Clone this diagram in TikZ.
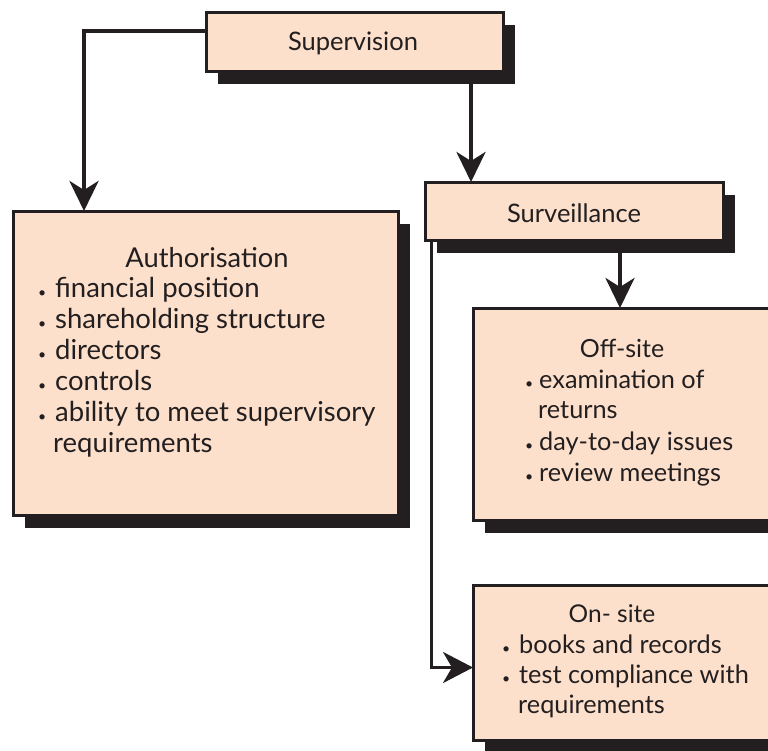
\documentclass[tikz,border=0pt]{standalone}
\usepackage{fontspec}
\setmainfont{Lato}
\usetikzlibrary{arrows.meta,shadows}
\definecolor{peach}{HTML}{FDE0CB}
\definecolor{ink}{HTML}{231F20}
\newcommand\bl[1][17pt]{\makebox[#1][l]{\fontsize{14}{14}\selectfont •}}
\begin{document}
\begin{tikzpicture}[x=1pt,y=-1pt,
  box/.style={draw=ink, line width=3pt, fill=peach, rectangle, inner sep=0pt, outer sep=0pt, anchor=north west,
    general shadow={fill=ink, shadow xshift=12pt, shadow yshift=-13pt}},
  ttl/.style={font=\fontsize{25.5}{30}\selectfont, text=ink, inner sep=0pt, anchor=base},
  ln/.style={font=\fontsize{27.5}{31}\selectfont, text=ink, inner sep=0pt, anchor=base west},
  lns/.style={ln, font=\fontsize{25.3}{31}\selectfont},
  conn/.style={draw=ink, line width=4pt, -{Stealth[length=30pt,width=29pt,inset=9pt]}},
  thin/.style={draw=ink, line width=3pt, -{Stealth[length=30pt,width=31pt,inset=9pt]}}]
\clip (0,0) rectangle (768,750);
\fill[white] (0,0) rectangle (768,750);
% boxes
\node[box, minimum width=297pt, minimum height=59pt] (sup) at (206,12) {};
\node[box, minimum width=385pt, minimum height=304pt] (auth) at (13,211) {};
\node[box, minimum width=298pt, minimum height=58pt] (surv) at (425,182) {};
\node[box, minimum width=320pt, minimum height=212pt] (offs) at (473,308) {};
\node[box, minimum width=320pt, minimum height=155pt] (ons) at (473,585) {};
% texts
\node[ttl] (supT) at (353,50) {Supervision};
\node[ttl] (survT) at (574,222) {Surveillance};
\node[ttl, font=\fontsize{27.3}{30}\selectfont] (authT) at (207,267) {Authorisation};
\node[ln] (a1) at (38,297) {\bl financial position};
\node[ln] (a2) at (38,328) {\bl shareholding structure};
\node[ln] (a3) at (38,359) {\bl directors};
\node[ln] (a4) at (38,390) {\bl controls};
\node[ln] (a5) at (38,421) {\bl ability to meet supervisory};
\node[ln] (a6) at (53,452) {requirements};
\node[ttl, font=\fontsize{25}{30}\selectfont] (offsT) at (622,357) {Off-site};
\node[lns] (o1) at (525,388) {\bl[14pt]examination of};
\node[lns] (o2) at (538,418) {returns};
\node[lns] (o3) at (525,450) {\bl[14pt]day-to-day issues};
\node[lns] (o4) at (525,481) {\bl[14pt]review meetings};
\node[ttl, font=\fontsize{24.5}{30}\selectfont] (onsT) at (612,622) {On- site};
\node[lns] (n1) at (502,653) {\bl books and records};
\node[lns] (n2) at (502,683) {\bl test compliance with};
\node[lns] (n3) at (518,713) {requirements};
% connectors
\draw[conn] ([yshift=10.5pt]sup.west) -| ([xshift=71pt]auth.north west);
\draw[conn] ([xshift=-32pt]sup.south east) -- ([xshift=-32pt]sup.south east |- surv.north);
\draw[conn] ([xshift=195pt]surv.south west) -- ([xshift=195pt]surv.south west |- offs.north);
\draw[thin] ([xshift=6pt]surv.south west) |- ([yshift=-5pt]ons.west);
\end{tikzpicture}
\end{document}
